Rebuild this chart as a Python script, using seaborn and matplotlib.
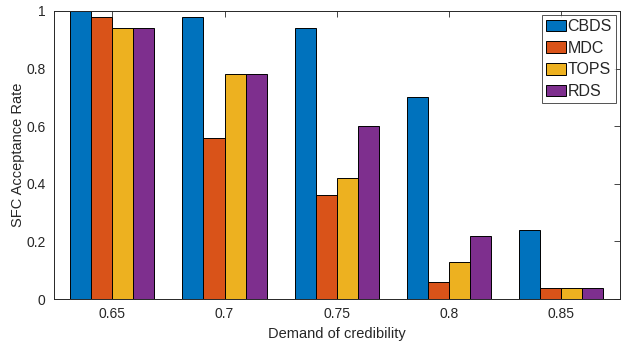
import numpy as np
import pandas as pd
import matplotlib
matplotlib.use("Agg")
import matplotlib.pyplot as plt
import seaborn as sns

categories = ["0.65", "0.7", "0.75", "0.8", "0.85"]
series = ["CBDS", "MDC", "TOPS", "RDS"]
cbds = [1.00, 0.98, 0.94, 0.70, 0.24]
mdc = [0.98, 0.56, 0.36, 0.06, 0.04]
tops = [0.94, 0.78, 0.42, 0.13, 0.04]
rds = [0.94, 0.78, 0.60, 0.22, 0.04]
colors = ["#0072BD", "#D95319", "#EDB120", "#7E2F8E"]

rows = []
for name, vals in zip(series, [cbds, mdc, tops, rds]):
    for c, v in zip(categories, vals):
        rows.append({"Demand": c, "Method": name, "Rate": v})
df = pd.DataFrame(rows)

sns.set_style("white")
plt.rcParams["font.family"] = ["Liberation Sans", "DejaVu Sans"]
plt.rcParams["font.size"] = 10

fig = plt.figure(figsize=(6.26, 3.43), dpi=100)
ax = fig.add_axes([0.086, 0.128, 0.904, 0.840])
sns.barplot(data=df, x="Demand", y="Rate", hue="Method", order=categories,
            hue_order=series, palette=colors, width=0.75, saturation=1,
            edgecolor="black", linewidth=0.7, ax=ax, errorbar=None)

ax.set_xlim(-0.52, 4.52)
ax.set_ylim(0, 1)
ax.set_yticks([0, 0.2, 0.4, 0.6, 0.8, 1.0])
ax.set_yticklabels(["0", "0.2", "0.4", "0.6", "0.8", "1"])
ax.set_xlabel("Demand of credibility", fontsize=10.5, color="#262626")
ax.set_ylabel("SFC Acceptance Rate", fontsize=10.5, color="#262626", labelpad=1)
ax.tick_params(direction="in", top=True, right=True, length=4, width=0.6,
               colors="#262626", labelsize=10, pad=6)
for s in ax.spines.values():
    s.set_visible(True)
    s.set_color("#262626")
    s.set_linewidth(0.7)

leg = ax.legend(loc="upper right", frameon=True, fontsize=11.5, handlelength=1.25,
                handleheight=0.75, handletextpad=0.1, borderpad=0.25,
                labelspacing=0.42, borderaxespad=0.25, fancybox=False)
leg.get_frame().set_edgecolor("#262626")
leg.get_frame().set_linewidth(0.7)

fig.savefig("out.png", dpi=100)
